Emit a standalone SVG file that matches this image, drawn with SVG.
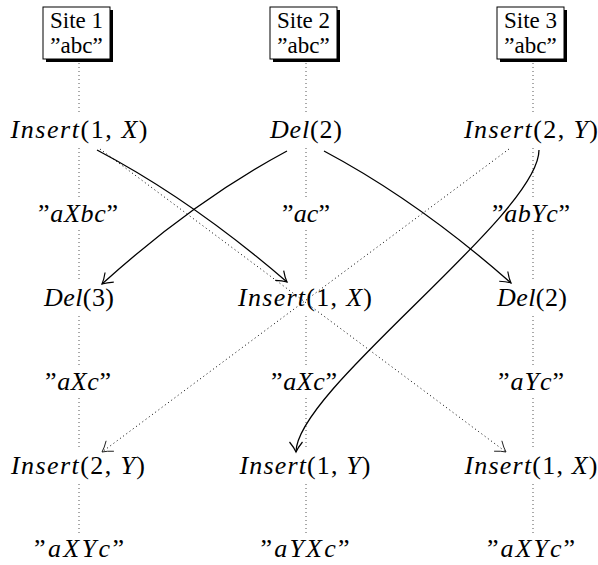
<svg xmlns="http://www.w3.org/2000/svg" width="598" height="565" viewBox="0 0 598 565">
<style>
text { font-size: 26px; fill: #000; text-anchor: middle; }
.bt { font-size: 23px; }
.i { font-style: italic; }
.box { fill: #fff; stroke: #000; stroke-width: 1; }
.shadow { fill: #000; }
.life { stroke: #555; stroke-width: 1; stroke-dasharray: 1 3; fill: none; }
.solid { stroke: #000; stroke-width: 1.3; fill: none; marker-end: url(#arr); }
.dot { stroke: #000; stroke-width: 1; stroke-dasharray: 1 3; fill: none; marker-end: url(#arrd); }
</style>
<defs>
<marker id="arr" markerUnits="userSpaceOnUse" markerWidth="16" markerHeight="16" refX="12" refY="8" orient="auto">
<path d="M2,1.5 Q7.5,6 12,8 Q7.5,10 2,14.5" fill="none" stroke="#000" stroke-width="1.2"/>
</marker>
<marker id="arrd" markerUnits="userSpaceOnUse" markerWidth="16" markerHeight="16" refX="12" refY="8" orient="auto">
<path d="M2,1.5 Q7.5,6 12,8 Q7.5,10 2,14.5" fill="none" stroke="#000" stroke-width="0.8"/>
</marker>
</defs>

<g id="lifelines">
<path class="life" d="M79,63 V114 M79,148 V198 M79,230 V282 M79,316 V366 M79,398 V450 M79,484 V534"/>
<path class="life" d="M306,63 V114 M306,148 V198 M306,230 V282 M306,316 V366 M306,398 V450 M306,484 V534"/>
<path class="life" d="M533,63 V114 M533,148 V198 M533,230 V282 M533,316 V366 M533,398 V450 M533,484 V534"/>
</g>

<g font-family="Liberation Serif">
<g id="site1">
<rect class="shadow" x="46" y="10" width="67" height="52"/>
<rect class="box" x="43" y="7" width="67" height="52"/>
<text class="bt" x="76.5" y="28">Site 1</text>
<text class="bt" x="76.5" y="53">”abc”</text>
</g>
<g id="site2">
<rect class="shadow" x="273" y="10" width="67" height="52"/>
<rect class="box" x="270" y="7" width="67" height="52"/>
<text class="bt" x="303.5" y="28">Site 2</text>
<text class="bt" x="303.5" y="53">”abc”</text>
</g>
<g id="site3">
<rect class="shadow" x="500" y="10" width="67" height="52"/>
<rect class="box" x="497" y="7" width="67" height="52"/>
<text class="bt" x="530.5" y="28">Site 3</text>
<text class="bt" x="530.5" y="53">”abc”</text>
</g>

<g id="op-s1-1"><text x="79" y="138" textLength="137" lengthAdjust="spacing"><tspan class="i">Insert</tspan>(1, <tspan class="i">X</tspan>)</text></g>
<g id="op-s2-1"><text x="306" y="138" textLength="72" lengthAdjust="spacing"><tspan class="i">Del</tspan>(2)</text></g>
<g id="op-s3-1"><text x="531" y="138" textLength="134" lengthAdjust="spacing"><tspan class="i">Insert</tspan>(2, <tspan class="i">Y</tspan>)</text></g>

<g id="st-s1-1"><text x="78" y="222" textLength="80" lengthAdjust="spacing">”<tspan class="i">aXbc</tspan>”</text></g>
<g id="st-s2-1"><text x="306" y="222" textLength="48" lengthAdjust="spacing">”<tspan class="i">ac</tspan>”</text></g>
<g id="st-s3-1"><text x="531" y="222" textLength="78" lengthAdjust="spacing">”<tspan class="i">abYc</tspan>”</text></g>

<g id="op-s1-2"><text x="79" y="306" textLength="70" lengthAdjust="spacing"><tspan class="i">Del</tspan>(3)</text></g>
<g id="op-s2-2"><text x="305" y="306" textLength="134" lengthAdjust="spacing"><tspan class="i">Insert</tspan>(1, <tspan class="i">X</tspan>)</text></g>
<g id="op-s3-2"><text x="532" y="306" textLength="70" lengthAdjust="spacing"><tspan class="i">Del</tspan>(2)</text></g>

<g id="st-s1-2"><text x="78" y="390" textLength="66" lengthAdjust="spacing">”<tspan class="i">aXc</tspan>”</text></g>
<g id="st-s2-2"><text x="304" y="390" textLength="66" lengthAdjust="spacing">”<tspan class="i">aXc</tspan>”</text></g>
<g id="st-s3-2"><text x="531" y="390" textLength="66" lengthAdjust="spacing">”<tspan class="i">aYc</tspan>”</text></g>

<g id="op-s1-3"><text x="78" y="474" textLength="134" lengthAdjust="spacing"><tspan class="i">Insert</tspan>(2, <tspan class="i">Y</tspan>)</text></g>
<g id="op-s2-3"><text x="305" y="474" textLength="131" lengthAdjust="spacing"><tspan class="i">Insert</tspan>(1, <tspan class="i">Y</tspan>)</text></g>
<g id="op-s3-3"><text x="531" y="474" textLength="133" lengthAdjust="spacing"><tspan class="i">Insert</tspan>(1, <tspan class="i">X</tspan>)</text></g>

<g id="st-s1-3"><text x="79" y="557" textLength="90" lengthAdjust="spacing">”<tspan class="i">aXYc</tspan>”</text></g>
<g id="st-s2-3"><text x="305" y="557" textLength="89" lengthAdjust="spacing">”<tspan class="i">aYXc</tspan>”</text></g>
<g id="st-s3-3"><text x="531" y="557" textLength="88" lengthAdjust="spacing">”<tspan class="i">aXYc</tspan>”</text></g>
</g>

<g id="connectors">
<path class="solid" d="M97,150 Q192,200 287,282"/>
<path class="dot" d="M100,149 L506,452"/>
<path class="solid" d="M287,151 Q194,201 102,284"/>
<path class="solid" d="M324,151 Q418,201 511,283"/>
<path class="dot" d="M509,149 L102,452"/>
<path class="solid" d="M539,150 C539,215 296,390 296,452"/>
</g>
</svg>
